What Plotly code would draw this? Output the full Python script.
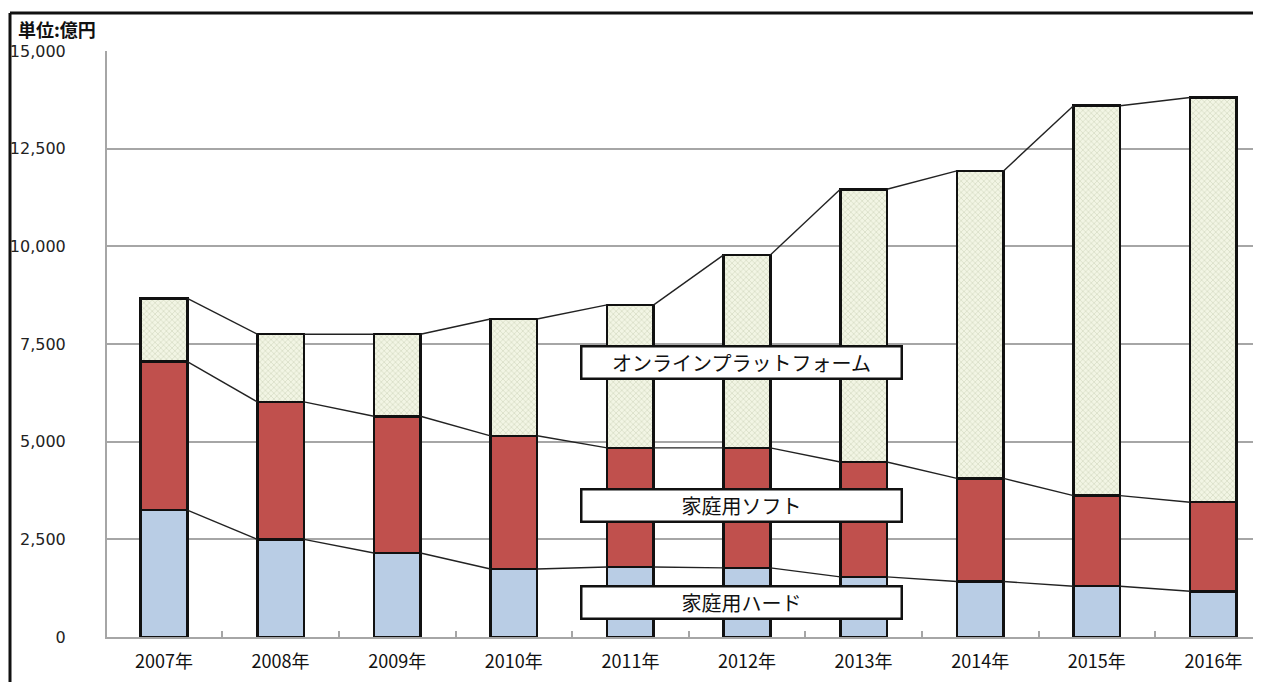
import plotly.graph_objects as go

years = ["2007年", "2008年", "2009年", "2010年", "2011年", "2012年", "2013年", "2014年", "2015年", "2016年"]
hard = [3250, 2500, 2150, 1740, 1790, 1770, 1540, 1420, 1300, 1170]
soft = [3800, 3520, 3500, 3410, 3050, 3070, 2940, 2640, 2320, 2280]
online = [1620, 1730, 2100, 2990, 3660, 4940, 6980, 7870, 9980, 10360]
series_names = ["家庭用ハード", "家庭用ソフト", "オンラインプラットフォーム"]
y_ticks = [0, 2500, 5000, 7500, 10000, 12500, 15000]

# page has an 8px body margin; work in screen pixels and convert
OFF = 8
W, H = 1261 - OFF, 682 - OFF
L = 107 - OFF
T = 51 - OFF
PB = 637 - OFF  # plot bottom in figure px
B = H - PB
pw, ph = W - L, PB - T

def px_x(p):
    return (p - OFF - L) / pw

def px_y(p):
    return (PB - (p - OFF)) / ph

xs = list(range(len(years)))
bw = 0.40
band = 116.6
first_center = 164

fig = go.Figure()
fig.add_trace(go.Bar(x=xs, y=hard, name=series_names[0], width=bw,
                     marker=dict(color="#b9cde5", line=dict(color="#111111", width=2.5))))
fig.add_trace(go.Bar(x=xs, y=soft, name=series_names[1], width=bw,
                     marker=dict(color="#c0504d", line=dict(color="#111111", width=2.5))))
fig.add_trace(go.Bar(x=xs, y=online, name=series_names[2], width=bw,
                     marker=dict(color="#f2f5e4", line=dict(color="#111111", width=2.5),
                                 pattern=dict(shape="x", bgcolor="#f2f5e4", fgcolor="#b3bd9c",
                                              size=4, solidity=0.3, fillmode="overlay"))))

# series lines connecting tops of the stacked segments
cum1 = hard
cum2 = [h + s for h, s in zip(hard, soft)]
cum3 = [c + o for c, o in zip(cum2, online)]
for cum in (cum1, cum2, cum3):
    lx, ly = [], []
    for i in range(len(xs) - 1):
        lx += [xs[i] + bw / 2, xs[i + 1] - bw / 2, None]
        ly += [cum[i], cum[i + 1], None]
    fig.add_trace(go.Scatter(x=lx, y=ly, mode="lines", line=dict(color="#222222", width=1.4),
                             hoverinfo="skip", showlegend=False))

x_lo = (107 - first_center) / band
x_hi = x_lo + pw / band

fig.update_layout(
    width=W, height=H,
    margin=dict(l=L, r=0, t=T, b=B),
    barmode="stack",
    showlegend=False,
    paper_bgcolor="white",
    plot_bgcolor="white",
    font=dict(family="Noto Sans CJK JP, DejaVu Sans, sans-serif", color="#111111"),
    xaxis=dict(range=[x_lo, x_hi], tickmode="array", tickvals=xs, ticktext=years,
               ticks="", showgrid=False, zeroline=False,
               showline=True, linecolor="#a6a6a6", linewidth=2,
               tickfont=dict(size=18, family="Noto Sans CJK JP, sans-serif", color="#111111"),
               ticklabelstandoff=7,
               minor=dict(tickmode="array", tickvals=[i + 0.5 for i in xs],
                          ticks="inside", ticklen=6, tickcolor="#a6a6a6", tickwidth=1.5,
                          showgrid=False)),
    yaxis=dict(range=[0, 15000], tickmode="array", tickvals=y_ticks,
               ticktext=[f"{v:,}" for v in y_ticks],
               showgrid=True, gridcolor="#a6a6a6", gridwidth=1.5,
               zeroline=False, showline=True, linecolor="#a6a6a6", linewidth=2,
               ticks="", tickfont=dict(size=16, family="DejaVu Sans, sans-serif", color="#222222"),
               ticklabelstandoff=36),
)

# outer frame (top and left)
fig.add_shape(type="line", xref="paper", yref="paper", x0=px_x(10), x1=1.0, y0=px_y(13), y1=px_y(13),
              line=dict(color="#111111", width=3))
fig.add_shape(type="line", xref="paper", yref="paper", x0=px_x(10), x1=px_x(10), y0=px_y(13), y1=px_y(690),
              line=dict(color="#111111", width=3))

fig.add_annotation(text="<b>単位:億円</b>", xref="paper", yref="paper", x=px_x(16), y=px_y(29),
                   xanchor="left", yanchor="middle", showarrow=False,
                   font=dict(size=18, family="Noto Sans CJK JP, sans-serif", color="#111111"))

box_centers = [602.5, 505.5, 362.5]
for name, cy in zip(series_names, box_centers):
    fig.add_annotation(text=name, xref="paper", yref="paper", x=px_x(741.5), y=px_y(cy),
                       xanchor="center", yanchor="middle", showarrow=False,
                       width=318, height=30, bgcolor="white", bordercolor="#111111", borderwidth=2.5,
                       borderpad=0,
                       font=dict(size=20, family="Noto Sans CJK JP, sans-serif", color="#111111"))

fig.write_html("out.html")
